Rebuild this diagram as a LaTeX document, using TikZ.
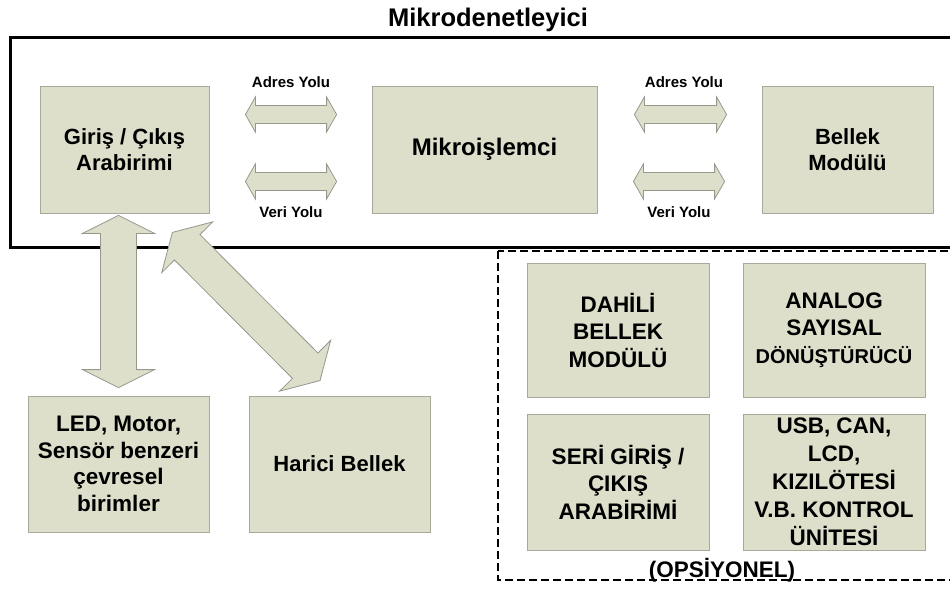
\documentclass[tikz,border=0pt]{standalone}
\usepackage{fontspec}
\setmainfont{Liberation Sans}
\usetikzlibrary{calc}

\definecolor{boxfill}{RGB}{221,223,203}
\definecolor{boxedge}{RGB}{168,169,155}
\definecolor{arrowedge}{RGB}{150,152,140}

\tikzset{
  unit/.style={draw=boxedge, fill=boxfill, line width=0.8pt, inner sep=0pt,
    align=center, font=\bfseries\fontsize{22}{26}\selectfont},
  capsunit/.style={unit, font=\bfseries\fontsize{22.5}{27.5}\selectfont},
  buslabel/.style={anchor=base, font=\bfseries\fontsize{15}{18}\selectfont},
  busarrow/.style={draw=arrowedge, fill=boxfill, line width=0.8pt, line join=miter},
  frame/.style={draw=black, line width=3pt},
  optframe/.style={draw=black, line width=2.5pt, dash pattern=on 8pt off 4pt},
}

% Double-headed block arrow from #1 to #2:
% #3 half shaft width, #4 half head width, #5 head length
\newcommand\fatarrow[5]{%
  \coordinate (fa-a) at ($(#1)!#5!(#2)$);
  \coordinate (fa-b) at ($(#2)!#5!(#1)$);
  \draw[busarrow] (#1)
    -- ($(fa-a)!#4!90:(#2)$) -- ($(fa-a)!#3!90:(#2)$)
    -- ($(fa-b)!#3!-90:(#1)$) -- ($(fa-b)!#4!-90:(#1)$)
    -- (#2)
    -- ($(fa-b)!#4!90:(#1)$) -- ($(fa-b)!#3!90:(#1)$)
    -- ($(fa-a)!#3!-90:(#2)$) -- ($(fa-a)!#4!-90:(#2)$)
    -- cycle;}

\begin{document}
\begin{tikzpicture}[x=1pt, y=-1pt]
  \useasboundingbox (0,0) rectangle (950,591);
  \clip (0,0) rectangle (950,591);
  \fill[white] (0,0) rectangle (950,591);

  % title and microcontroller frame
  \node[anchor=base, font=\bfseries\fontsize{25.5}{30}\selectfont] (title) at (488,27) {Mikrodenetleyici};
  \draw[frame] (10,37.5) rectangle (970,247);

  % optional units frame
  \draw[optframe] (498,251) rectangle (970,580);

  % units inside the microcontroller
  \node[unit, minimum width=169pt, minimum height=127pt] (io) at (124.5,149.5) {Giriş / Çıkış\\Arabirimi};
  \node[unit, minimum width=225pt, minimum height=127pt, font=\bfseries\fontsize{24}{28}\selectfont] (cpu) at (484.5,149.5) {Mikroişlemci};
  \node[unit, minimum width=171pt, minimum height=127pt] (mem) at (847.5,149.5) {Bellek\\Modülü};

  % external units
  \node[unit, minimum width=181pt, minimum height=136pt, font=\bfseries\fontsize{22.5}{26.7}\selectfont] (led) at (118.5,464) {LED, Motor,\\Sensör benzeri\\çevresel\\birimler};
  \node[unit, minimum width=181pt, minimum height=136pt] (har) at (339.5,464) {Harici Bellek};

  % optional units
  \node[capsunit, minimum width=182pt, minimum height=134pt] (dah) at (618,330) {DAHİLİ\\BELLEK\\MODÜLÜ};
  \node[capsunit, minimum width=182pt, minimum height=134pt] (ana) at (834,330) {ANALOG\\SAYISAL\\{\fontsize{20}{27.5}\selectfont DÖNÜŞTÜRÜCÜ}};
  \node[capsunit, minimum width=182pt, minimum height=136pt] (ser) at (618,482) {SERİ GİRİŞ /\\ÇIKIŞ\\ARABİRİMİ};
  \node[capsunit, minimum width=182pt, minimum height=136pt, font=\bfseries\fontsize{22.5}{28}\selectfont] (usb) at (834,482) {USB, CAN,\\LCD,\\KIZILÖTESİ\\V.B. KONTROL\\ÜNİTESİ};
  \node[anchor=base, font=\bfseries\fontsize{22.5}{27}\selectfont] (opt) at (722,577) {(OPSİYONEL)};

  % bus end points
  \coordinate (a1l) at ([xshift=36pt,yshift=35pt]io.east);
  \coordinate (a1r) at ([xshift=-35pt,yshift=35pt]cpu.west);
  \coordinate (v1l) at ([xshift=36pt,yshift=-32pt]io.east);
  \coordinate (v1r) at ([xshift=-35pt,yshift=-32pt]cpu.west);
  \coordinate (a2l) at ([xshift=37pt,yshift=35pt]cpu.east);
  \coordinate (a2r) at ([xshift=-35pt,yshift=35pt]mem.west);
  \coordinate (v2l) at ([xshift=36pt,yshift=-32pt]cpu.east);
  \coordinate (v2r) at ([xshift=-37pt,yshift=-32pt]mem.west);

  % address and data buses
  \fatarrow{a1l}{a1r}{9pt}{17.5pt}{10pt}
  \fatarrow{v1l}{v1r}{9pt}{17.5pt}{10pt}
  \fatarrow{a2l}{a2r}{9pt}{17.5pt}{10pt}
  \fatarrow{v2l}{v2r}{9pt}{17.5pt}{10pt}

  \node[buslabel] (la1) at (291,88) {Adres Yolu};
  \node[buslabel] (lv1) at (291,217) {Veri Yolu};
  \node[buslabel] (la2) at (684,88) {Adres Yolu};
  \node[buslabel] (lv2) at (679,217) {Veri Yolu};

  % links to the external units
  \coordinate (p1) at ($(io.south -| led.north)+(0,2)$);
  \coordinate (p2) at ($(led.north)+(0,-8)$);
  \fatarrow{p1}{p2}{18pt}{36pt}{18pt}
  \coordinate (d1) at ([xshift=-37pt,yshift=-19pt]io.south east);
  \coordinate (d2) at ([xshift=-19.5pt,yshift=15pt]har.north);
  \fatarrow{d1}{d2}{18pt}{36pt}{21pt}
\end{tikzpicture}
\end{document}
